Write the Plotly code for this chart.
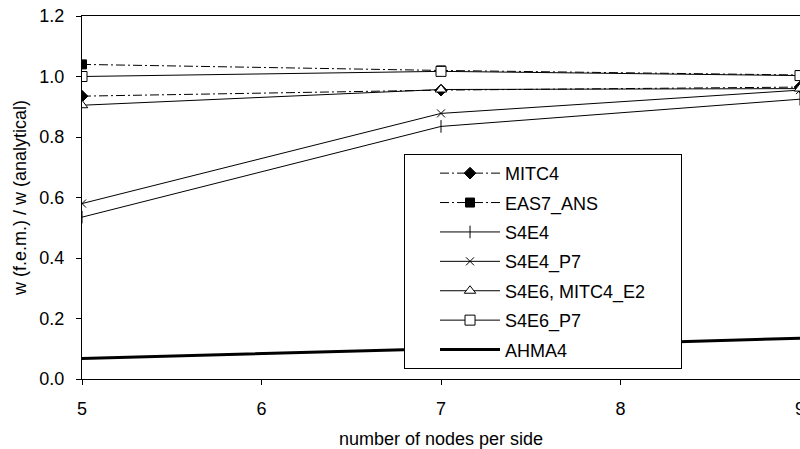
import plotly.graph_objects as go

# mesh density (nodes per side) and normalised deflection per element type
nodes = [5, 7, 9]
mitc4 = [0.935, 0.955, 0.965]
eas7_ans = [1.04, 1.02, 1.005]
s4e4 = [0.535, 0.835, 0.925]
s4e4_p7 = [0.58, 0.878, 0.955]
s4e6_mitc4_e2 = [0.905, 0.957, 0.96]
s4e6_p7 = [1.0, 1.017, 1.003]
ahma4 = [0.068, 0.10, 0.135]

FONT = "Liberation Sans, Arial, sans-serif"
DASHDOT = "9px,3px,2px,3px"
PAD = "\u00a0" * 6  # keeps some white space at the right of the legend box

series = [
    ("MITC4", mitc4, DASHDOT, "diamond", "black", 9),
    ("EAS7_ANS", eas7_ans, DASHDOT, "square", "black", 9),
    ("S4E4", s4e4, "solid", "line-ns-open", "black", 9),
    ("S4E4_P7", s4e4_p7, "solid", "x-thin-open", "black", 8),
    ("S4E6, MITC4_E2" + PAD, s4e6_mitc4_e2, "solid", "triangle-up", "white", 10),
    ("S4E6_P7", s4e6_p7, "solid", "square", "white", 10),
]

fig = go.Figure()
for i, (name, ys, dash, sym, fill, size) in enumerate(series):
    fig.add_trace(go.Scatter(
        x=nodes, y=ys, name=name, mode="lines+markers",
        legendgroup=f"g{i}",
        line=dict(color="black", width=1, dash=dash),
        marker=dict(symbol=sym, size=size, color=fill,
                    line=dict(color="black", width=1)),
    ))
fig.add_trace(go.Scatter(
    x=nodes, y=ahma4, name="AHMA4", mode="lines", legendgroup="g6",
    line=dict(color="black", width=3),
))

axis_common = dict(
    showgrid=False, zeroline=False, showline=True, linecolor="black", linewidth=1,
    mirror=True, ticks="outside", ticklen=5, tickcolor="black", automargin=False,
    tickfont=dict(family=FONT, size=18, color="black"),
)

fig.update_layout(
    width=800, height=449,
    margin=dict(l=82, r=0, t=16, b=70),
    paper_bgcolor="white", plot_bgcolor="white",
    font=dict(family=FONT, size=18, color="black"),
    xaxis=dict(range=[5, 9], tickvals=[5, 6, 7, 8, 9], ticklabelstandoff=8,
               ticklabeloverflow="allow",
               title=dict(text="number of nodes per side", standoff=14,
                          font=dict(family=FONT, size=18)),
               **axis_common),
    yaxis=dict(range=[0, 1.2], tickvals=[0, 0.2, 0.4, 0.6, 0.8, 1.0, 1.2],
               tickformat=".1f", ticklabelstandoff=8,
               title=dict(text="w (f.e.m.) / w (analytical)", standoff=8,
                          font=dict(family=FONT, size=18)),
               **axis_common),
    legend=dict(
        x=0.4485, y=0.62, xanchor="left", yanchor="top",
        bgcolor="white", bordercolor="black", borderwidth=1,
        font=dict(family=FONT, size=18, color="black"),
        tracegroupgap=3, itemwidth=60, indentation=30,
    ),
)

fig.write_html("out.html")
